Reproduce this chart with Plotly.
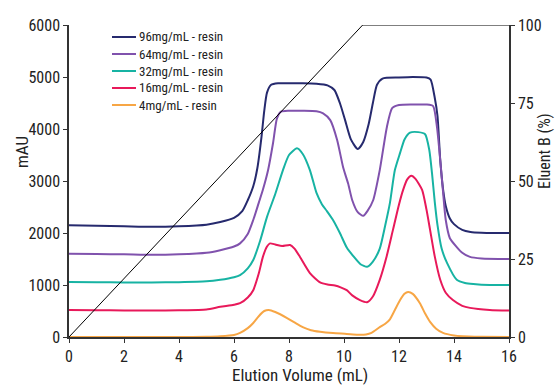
import plotly.graph_objects as go

# ---- data ----
names = ["96mg/mL - resin", "64mg/mL - resin", "32mg/mL - resin", "16mg/mL - resin", "4mg/mL - resin"]
colors = ["#262a6e", "#8052ad", "#17b3a3", "#e8195a", "#f7a645"]

x96 = [0, 1, 2, 3, 4, 5, 5.5, 6, 6.3, 6.5, 6.7, 6.85, 7.0, 7.1, 7.2, 7.35, 7.6, 8, 8.5, 9, 9.4, 9.65, 9.85, 10.04, 10.25, 10.5, 10.7, 10.9, 11.05, 11.2, 11.4, 12, 12.5, 13, 13.15, 13.3, 13.4, 13.5, 13.6, 13.7, 13.85, 14, 14.3, 14.6, 15, 15.5, 16]
y96 = [2150, 2140, 2130, 2120, 2130, 2160, 2210, 2290, 2420, 2630, 2900, 3250, 3850, 4350, 4700, 4850, 4880, 4880, 4880, 4870, 4840, 4750, 4500, 4170, 3800, 3615, 3750, 4100, 4500, 4850, 4970, 4990, 5000, 4990, 4950, 4600, 4250, 3400, 2850, 2520, 2280, 2170, 2060, 2020, 2005, 2000, 2000]

x64 = [0, 1, 2, 3, 4, 5, 5.5, 6, 6.22, 6.5, 6.7, 6.9, 7.05, 7.24, 7.42, 7.56, 7.7, 8, 8.5, 9, 9.24, 9.5, 9.75, 9.97, 10.15, 10.3, 10.5, 10.7, 10.85, 11.06, 11.3, 11.56, 11.75, 12, 12.5, 13, 13.24, 13.38, 13.5, 13.6, 13.7, 13.85, 14.1, 14.3, 14.58, 15, 16]
y64 = [1600, 1595, 1590, 1580, 1590, 1620, 1670, 1740, 1800, 1980, 2250, 2580, 2830, 3210, 3730, 4200, 4330, 4350, 4350, 4340, 4300, 4170, 3790, 3260, 2950, 2630, 2400, 2330, 2420, 2630, 3210, 4040, 4400, 4460, 4470, 4470, 4440, 4040, 3400, 2800, 2250, 1900, 1730, 1620, 1540, 1510, 1500]

x32 = [0, 1, 2, 3, 4, 5, 5.5, 6, 6.22, 6.5, 6.7, 6.95, 7.2, 7.5, 7.78, 8.0, 8.29, 8.5, 8.76, 9.0, 9.2, 9.38, 9.6, 9.85, 10.1, 10.33, 10.6, 10.84, 11.05, 11.3, 11.5, 11.67, 11.85, 12.04, 12.2, 12.4, 12.7, 12.95, 13.1, 13.2, 13.3, 13.4, 13.55, 13.75, 14.1, 14.4, 14.7, 15.3, 16]
y32 = [1060, 1055, 1050, 1050, 1055, 1070, 1100, 1150, 1190, 1320, 1480, 1850, 2310, 2750, 3210, 3500, 3630, 3520, 3210, 2770, 2550, 2420, 2250, 2000, 1720, 1560, 1400, 1350, 1450, 1700, 2150, 2580, 3210, 3540, 3800, 3930, 3940, 3900, 3600, 3150, 2600, 2150, 1700, 1420, 1100, 1040, 1020, 1000, 1000]

x16 = [0, 1, 2, 3, 4, 5, 5.5, 6, 6.22, 6.5, 6.7, 6.9, 7.05, 7.2, 7.31, 7.5, 7.75, 8.04, 8.2, 8.4, 8.76, 9.13, 9.4, 9.67, 9.9, 10.1, 10.3, 10.58, 10.84, 11.05, 11.3, 11.55, 11.78, 12.0, 12.15, 12.3, 12.45, 12.6, 12.84, 13.0, 13.13, 13.3, 13.5, 13.7, 13.96, 14.3, 14.58, 15.3, 16]
y16 = [520, 515, 510, 510, 515, 530, 580, 620, 650, 760, 900, 1220, 1540, 1740, 1800, 1780, 1750, 1770, 1700, 1540, 1230, 1050, 1010, 990, 950, 900, 800, 710, 670, 780, 1100, 1550, 2060, 2550, 2830, 3030, 3100, 3040, 2830, 2450, 2060, 1550, 1100, 850, 710, 600, 560, 520, 510]

x4 = [0, 1, 2, 3, 4, 5, 5.5, 6, 6.22, 6.5, 6.7, 6.9, 7.1, 7.27, 7.5, 7.93, 8.2, 8.5, 8.8, 9.13, 9.6, 10.1, 10.5, 10.8, 11.0, 11.3, 11.5, 11.67, 11.85, 12.04, 12.2, 12.33, 12.5, 12.76, 12.95, 13.13, 13.35, 13.6, 14, 14.3, 15, 16]
y4 = [0, 0, 0, 0, 0, 5, 15, 40, 80, 170, 270, 400, 500, 520, 480, 365, 280, 190, 130, 100, 75, 60, 45, 50, 80, 190, 255, 340, 520, 710, 830, 865, 830, 650, 450, 290, 160, 80, 30, 15, 5, 0]

grad_x = [0, 10.68, 16]
grad_y = [0, 100, 100]

x_ticks = [0, 2, 4, 6, 8, 10, 12, 14, 16]
y_ticks = [0, 1000, 2000, 3000, 4000, 5000, 6000]
y2_ticks = [0, 25, 50, 75, 100]

series = [(x96, y96), (x64, y64), (x32, y32), (x16, y16), (x4, y4)]

FONT = "Liberation Sans Narrow, Arial Narrow, Roboto Condensed, DejaVu Sans Condensed, sans-serif"
AX = "#333333"
W, H = 555, 385
ML, MR, MT, MB = 69, 46, 25, 48
PW, PH = W - ML - MR, H - MT - MB


def px_x(px):
    return (px - ML) / PW


def px_y(py):
    return (H - MB - py) / PH


fig = go.Figure()
for (xs, ys), n, c in zip(series, names, colors):
    fig.add_trace(go.Scatter(x=xs, y=ys, mode="lines", name=n, showlegend=False,
                             line=dict(color=c, width=2, shape="spline", smoothing=0.6)))
fig.add_trace(go.Scatter(x=grad_x, y=grad_y, mode="lines", yaxis="y2", showlegend=False,
                         line=dict(color="black", width=1)))

# hand-made legend (compact spacing as in the reference)
shapes = []
annotations = []
for i, (n, c) in enumerate(zip(names, colors)):
    yy = px_y(37 + 17 * i)
    shapes.append(dict(type="line", xref="paper", yref="paper", x0=px_x(112), x1=px_x(136),
                       y0=yy, y1=yy, line=dict(color=c, width=2)))
    annotations.append(dict(text=n, xref="paper", yref="paper", x=px_x(137), y=yy,
                            xanchor="left", yanchor="middle", showarrow=False,
                            font=dict(size=13, color="#222222")))

annotations += [
    dict(text="Elution Volume (mL)", xref="paper", yref="paper", x=px_x(299.5), y=px_y(387),
         xanchor="center", yanchor="bottom", showarrow=False, font=dict(size=17)),
    dict(text="mAU", xref="paper", yref="paper", x=px_x(22), y=px_y(152),
         xanchor="center", yanchor="middle", textangle=-90, showarrow=False,
         font=dict(size=17)),
    dict(text="Eluent B (%)", xref="paper", yref="paper", x=px_x(544), y=px_y(151),
         xanchor="center", yanchor="middle", textangle=-90, showarrow=False,
         font=dict(size=16)),
]

fig.update_layout(
    width=W, height=H,
    margin=dict(l=ML, r=MR, t=MT, b=MB),
    paper_bgcolor="white", plot_bgcolor="white",
    font=dict(family=FONT, size=16, color="#222222"),
    showlegend=False,
    xaxis=dict(range=[0, 16], tickvals=x_ticks, showgrid=False, zeroline=False,
               showline=True, linecolor=AX, linewidth=1.5, ticks="outside",
               ticklen=4, tickcolor=AX, tickfont=dict(size=16)),
    yaxis=dict(range=[0, 6000], tickvals=y_ticks, showgrid=False, zeroline=False,
               showline=True, linecolor=AX, linewidth=1.5, ticks="outside",
               ticklen=4, tickcolor=AX, tickfont=dict(size=16)),
    yaxis2=dict(range=[0, 100], tickvals=y2_ticks, overlaying="y", side="right",
                showgrid=False, zeroline=False, showline=True, linecolor=AX,
                linewidth=1.5, ticks="outside", ticklen=4, tickcolor=AX,
                tickfont=dict(size=16)),
    shapes=shapes,
    annotations=annotations,
)

fig.write_html("out.html", config={"displayModeBar": False},
               post_script="document.body.style.margin='0';document.body.style.overflow='hidden';")
